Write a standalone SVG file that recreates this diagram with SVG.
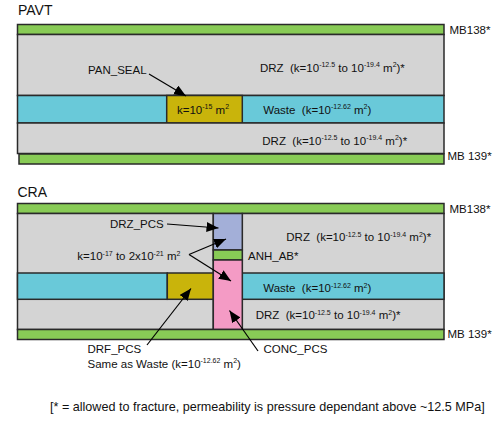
<svg xmlns="http://www.w3.org/2000/svg" width="494" height="423" viewBox="0 0 494 423">
<defs>
<style>
text{font-family:"Liberation Sans",Arial,sans-serif;font-size:11.5px;fill:#111;white-space:pre}
.t{font-size:14px}
.f{font-size:12.6px}
.s{font-size:7px}
.b{stroke:#2a2a2a;stroke-width:1.5}
.g{fill:#88CB56}
.gr{fill:#D4D4D4}
.w{fill:#69C9D9}
.y{fill:#C9B40B}
.bl{fill:#A3AFD8}
.p{fill:#F49BC5}
.c{stroke:#000;stroke-width:1.2;fill:none}
</style>
<marker id="ah" markerUnits="userSpaceOnUse" markerWidth="13" markerHeight="11" refX="12" refY="5" orient="auto">
<path d="M0,0 L12,5 L0,10 Z" fill="#000"/>
</marker>
</defs>
<rect width="494" height="423" fill="#fff"/>

<g id="pavt">
<text class="t" x="18" y="15">PAVT</text>
<rect id="pavt-mb138" class="g b" x="17.5" y="24.5" width="426.5" height="10"/>
<rect id="pavt-drz-top" class="gr b" x="17.5" y="34.5" width="426.5" height="61"/>
<rect id="pavt-waste" class="w b" x="17.5" y="95.5" width="426.5" height="27.5"/>
<rect id="pavt-panseal" class="y b" x="166.7" y="95.5" width="75.6" height="27.5"/>
<rect id="pavt-drz-bot" class="gr b" x="17.5" y="123" width="426.5" height="30.5"/>
<rect id="pavt-mb139" class="g b" x="19" y="154" width="425" height="10"/>
<text x="449.5" y="33.5">MB138*</text>
<text x="447.5" y="159.5">MB 139*</text>
<text xml:space="preserve" x="260" y="71.5">DRZ  (k=10<tspan class="s" dy="-4.5">-12.5</tspan><tspan dy="4.5"> to 10</tspan><tspan class="s" dy="-4.5">-19.4</tspan><tspan dy="4.5"> m</tspan><tspan class="s" dy="-4.5">2</tspan><tspan dy="4.5">)*</tspan></text>
<text xml:space="preserve" x="263.3" y="113.5">Waste  (k=10<tspan class="s" dy="-4.5">-12.62</tspan><tspan dy="4.5"> m</tspan><tspan class="s" dy="-4.5">2</tspan><tspan dy="4.5">)</tspan></text>
<text xml:space="preserve" x="262.3" y="144.5">DRZ  (k=10<tspan class="s" dy="-4.5">-12.5</tspan><tspan dy="4.5"> to 10</tspan><tspan class="s" dy="-4.5">-19.4</tspan><tspan dy="4.5"> m</tspan><tspan class="s" dy="-4.5">2</tspan><tspan dy="4.5">)*</tspan></text>
<text x="177" y="113.5">k=10<tspan class="s" dy="-4.5">-15</tspan><tspan dy="4.5"> m</tspan><tspan class="s" dy="-4.5">2</tspan></text>
<text x="88" y="74">PAN_SEAL</text>
</g>

<g id="cra">
<text class="t" x="17.5" y="197">CRA</text>
<rect id="cra-mb138" class="g b" x="17.5" y="203.5" width="426.5" height="10"/>
<rect id="cra-drz-left" class="gr b" x="17.5" y="213.5" width="195.8" height="116"/>
<rect id="cra-drz-right" class="gr b" x="242.3" y="213.5" width="201.7" height="116"/>
<rect id="cra-waste-left" class="w b" x="17.5" y="273" width="149.8" height="26.3"/>
<rect id="cra-drf" class="y b" x="167.3" y="273" width="46" height="26.3"/>
<rect id="cra-waste-right" class="w b" x="242.3" y="273" width="201.7" height="26.3"/>
<rect id="cra-drz-pcs" class="bl b" x="213.3" y="213.5" width="29" height="36.5"/>
<rect id="cra-anh" class="g b" x="213.3" y="250" width="29" height="10"/>
<rect id="cra-conc" class="p b" x="213.3" y="260" width="29" height="69.5"/>
<rect id="cra-mb139" class="g b" x="17.5" y="329.5" width="426.5" height="10"/>
<text x="449.5" y="212.5">MB138*</text>
<text x="447.5" y="337.5">MB 139*</text>
<text xml:space="preserve" x="286.3" y="241">DRZ  (k=10<tspan class="s" dy="-4.5">-12.5</tspan><tspan dy="4.5"> to 10</tspan><tspan class="s" dy="-4.5">-19.4</tspan><tspan dy="4.5"> m</tspan><tspan class="s" dy="-4.5">2</tspan><tspan dy="4.5">)*</tspan></text>
<text x="248" y="259.5">ANH_AB*</text>
<text xml:space="preserve" x="263.3" y="292">Waste  (k=10<tspan class="s" dy="-4.5">-12.62</tspan><tspan dy="4.5"> m</tspan><tspan class="s" dy="-4.5">2</tspan><tspan dy="4.5">)</tspan></text>
<text xml:space="preserve" x="255.7" y="319">DRZ  (k=10<tspan class="s" dy="-4.5">-12.5</tspan><tspan dy="4.5"> to 10</tspan><tspan class="s" dy="-4.5">-19.4</tspan><tspan dy="4.5"> m</tspan><tspan class="s" dy="-4.5">2</tspan><tspan dy="4.5">)*</tspan></text>
<text x="110" y="227.5">DRZ_PCS</text>
<text x="77.3" y="260">k=10<tspan class="s" dy="-4.5">-17</tspan><tspan dy="4.5"> to 2x10</tspan><tspan class="s" dy="-4.5">-21</tspan><tspan dy="4.5"> m</tspan><tspan class="s" dy="-4.5">2</tspan></text>
<text x="87.5" y="352.5">DRF_PCS</text>
<text x="87.5" y="367.5">Same as Waste (k=10<tspan class="s" dy="-4.5">-12.62</tspan><tspan dy="4.5"> m</tspan><tspan class="s" dy="-4.5">2</tspan><tspan dy="4.5">)</tspan></text>
<text x="263.5" y="352.5">CONC_PCS</text>
</g>

<g id="connectors">
<line class="c" x1="149" y1="74" x2="186" y2="96" marker-end="url(#ah)"/>
<line class="c" x1="167" y1="224" x2="218.5" y2="228" marker-end="url(#ah)"/>
<line class="c" x1="189" y1="254.5" x2="226" y2="239" marker-end="url(#ah)"/>
<line class="c" x1="189" y1="254.5" x2="231" y2="281" marker-end="url(#ah)"/>
<line class="c" x1="147" y1="345" x2="191" y2="288.5" marker-end="url(#ah)"/>
<line class="c" x1="258" y1="351" x2="229.5" y2="310.5" marker-end="url(#ah)"/>
</g>

<text class="f" x="50" y="410.5">[* = allowed to fracture, permeability is pressure dependant above ~12.5 MPa]</text>
</svg>
